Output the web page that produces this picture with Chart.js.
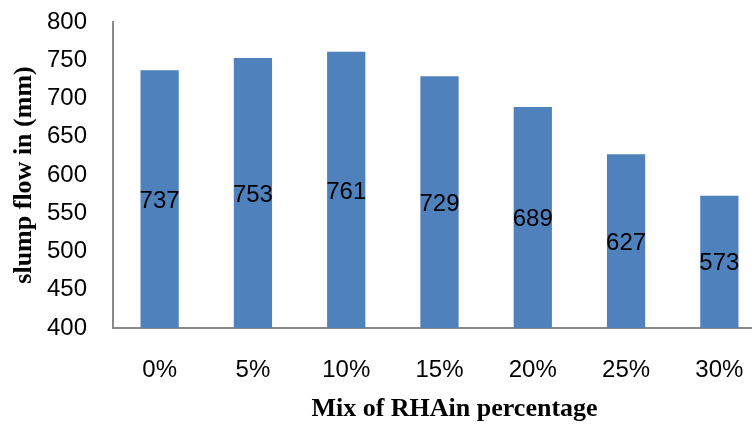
<!DOCTYPE html>
<html>
<head>
<meta charset="utf-8">
<script src="https://cdn.jsdelivr.net/npm/chart.js@4/dist/chart.umd.min.js"></script>
<style>
  html, body { margin: 0; padding: 0; background: #fff; overflow: hidden; }
  #wrap { width: 752px; height: 426px; overflow: hidden; }
  #chart { display: block; }
</style>
</head>
<body>
<!-- the plot runs a little past the right edge, as in the original figure -->
<div id="wrap"><canvas id="chart" width="766" height="426"></canvas></div>
<script>
const mixLabels = ["0%", "5%", "10%", "15%", "20%", "25%", "30%"];
const slumpFlow = [737, 753, 761, 729, 689, 627, 573];
const yTicks = [400, 450, 500, 550, 600, 650, 700, 750, 800];
const xTitle = "Mix of RHAin percentage";

// values written in the middle of each bar, plus the x title
const extraText = {
    id: "extraText",
    afterDatasetsDraw(chart) {
        const ctx = chart.ctx;
        const meta = chart.getDatasetMeta(0);
        const bottom = chart.chartArea.bottom;
        ctx.save();
        ctx.font = "24px 'Liberation Sans'";
        ctx.fillStyle = "#000";
        ctx.textAlign = "center";
        ctx.textBaseline = "middle";
        meta.data.forEach((bar, i) => {
            const mid = (bar.y + Math.min(bar.base, bottom)) / 2;
            ctx.fillText(String(slumpFlow[i]), bar.x, mid + 2);
        });
        ctx.font = "bold 26px 'Liberation Serif'";
        const cx = (chart.chartArea.left + chart.chartArea.right) / 2 + 15;
        ctx.fillText(xTitle, cx, 409);
        ctx.restore();
    },
};

new Chart(document.getElementById("chart"), {
    type: "bar",
    data: {
        labels: mixLabels,
        datasets: [
            {
                data: slumpFlow,
                backgroundColor: "#4F81BD",
                barPercentage: 0.41,
                categoryPercentage: 1.0,
            },
        ],
    },
    options: {
        responsive: false,
        animation: false,
        layout: { padding: { top: 22, right: 0, bottom: 0, left: 0 } },
        plugins: {
            legend: { display: false },
            tooltip: { enabled: false },
        },
        scales: {
            x: {
                grid: { display: false, drawTicks: false },
                border: { color: "#898989", width: 2 },
                ticks: {
                    color: "#000",
                    padding: 28,
                    font: { family: "'Liberation Sans'", size: 24 },
                },
                afterFit(scale) {
                    scale.height = 98;
                    scale.paddingLeft = 0;
                    scale.paddingRight = 0;
                },
            },
            y: {
                min: 400,
                max: 800,
                grid: { display: false, drawTicks: false },
                border: { color: "#898989", width: 2 },
                afterBuildTicks(scale) {
                    scale.ticks = yTicks.map((v) => ({ value: v }));
                },
                ticks: {
                    color: "#000",
                    padding: 26,
                    font: { family: "'Liberation Sans'", size: 24 },
                },
                title: {
                    display: true,
                    text: "slump flow in (mm)",
                    color: "#000",
                    padding: { top: 9, bottom: 0 },
                    font: { family: "'Liberation Serif'", size: 26, weight: "bold" },
                },
                afterFit(scale) {
                    scale.width = 113;
                    scale.paddingTop = 0;
                    scale.paddingBottom = 0;
                },
            },
        },
    },
    plugins: [extraText],
});
</script>
</body>
</html>
